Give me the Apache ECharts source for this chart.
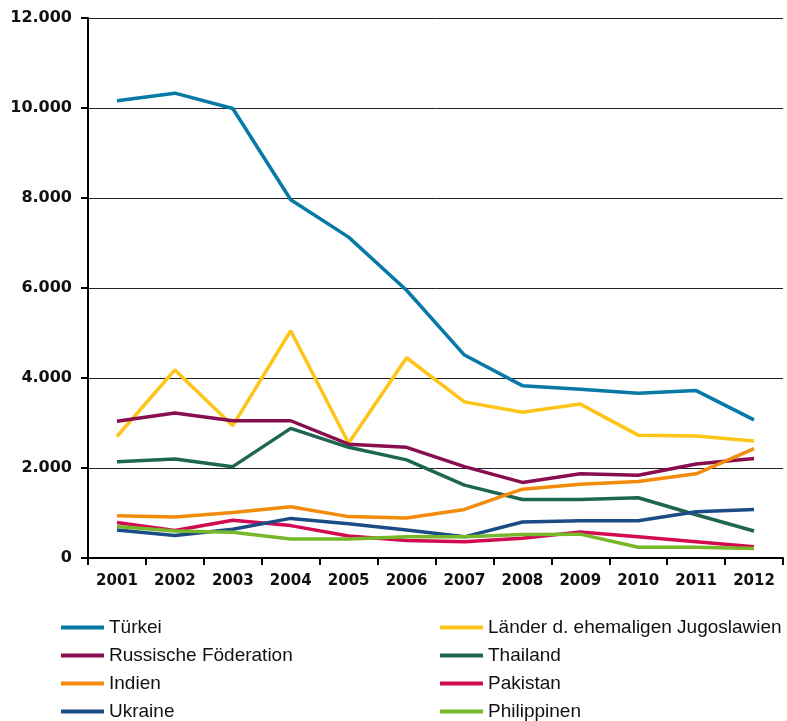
<!DOCTYPE html>
<html>
<head>
<meta charset="utf-8">
<script src="https://cdn.jsdelivr.net/npm/echarts@6/dist/echarts.min.js"></script>
<style>
  html, body { margin: 0; padding: 0; background: #fff; }
  #chart { width: 787px; height: 721px; }
</style>
</head>
<body>
<div id="chart"></div>
<script>
// Jahre und Werte
const years = ['2001', '2002', '2003', '2004', '2005', '2006', '2007', '2008', '2009', '2010', '2011', '2012']

const tuerkei = [10160, 10330, 9990, 7960, 7130, 5950, 4510, 3830, 3750, 3660, 3720, 3070]
const jugoslawien = [2700, 4180, 2940, 5050, 2550, 4450, 3470, 3240, 3420, 2730, 2710, 2600]
const russland = [3040, 3220, 3050, 3050, 2530, 2460, 2030, 1680, 1870, 1840, 2090, 2210]
const thailand = [2140, 2200, 2030, 2880, 2460, 2180, 1620, 1300, 1300, 1340, 960, 600]
const indien = [940, 910, 1010, 1140, 920, 890, 1080, 1530, 1640, 1700, 1870, 2430]
const pakistan = [790, 610, 840, 720, 490, 390, 360, 440, 580, 470, 360, 250]
const ukraine = [620, 500, 640, 880, 760, 620, 470, 800, 830, 830, 1030, 1080]
const philippinen = [700, 600, 570, 420, 420, 470, 470, 520, 530, 240, 240, 210]

const leftNames = ['Türkei', 'Russische Föderation', 'Indien', 'Ukraine']
const rightNames = ['Länder d. ehemaligen Jugoslawien', 'Thailand', 'Pakistan', 'Philippinen']

const seriesDefs = [
  { name: 'Türkei', data: tuerkei, color: '#0679a6' },
  { name: 'Länder d. ehemaligen Jugoslawien', data: jugoslawien, color: '#fec417' },
  { name: 'Russische Föderation', data: russland, color: '#880e4f' },
  { name: 'Thailand', data: thailand, color: '#1e6651' },
  { name: 'Indien', data: indien, color: '#f38b0c' },
  { name: 'Pakistan', data: pakistan, color: '#d20a52' },
  { name: 'Ukraine', data: ukraine, color: '#1c4c85' },
  { name: 'Philippinen', data: philippinen, color: '#76b82a' },
]

const AXIS_FONT = '"DejaVu Sans", sans-serif'

const legendBase = {
  orient: 'vertical',
  top: 618,
  height: 150,
  padding: 0,
  itemWidth: 43,
  itemHeight: 4,
  itemGap: 9,
  icon: 'rect',
  textStyle: { color: '#111', fontSize: 19, fontFamily: '"Liberation Sans", sans-serif' },
}

const chart = echarts.init(document.getElementById('chart'))
chart.setOption({
  animation: false,
  backgroundColor: '#fff',
  grid: { left: 88, right: 4, top: 18, bottom: 163 },
  legend: [
    { ...legendBase, left: 61, data: leftNames },
    { ...legendBase, left: 440, data: rightNames },
  ],
  xAxis: {
    type: 'category',
    data: years,
    boundaryGap: true,
    axisLine: { lineStyle: { color: '#000', width: 2 } },
    axisTick: { show: true, length: 7, lineStyle: { color: '#000', width: 2 } },
    axisLabel: { color: '#111', fontSize: 15, fontWeight: 'bold', margin: 16, fontFamily: AXIS_FONT },
  },
  yAxis: {
    type: 'value',
    min: 0,
    max: 12000,
    interval: 2000,
    axisLine: { show: true, lineStyle: { color: '#000', width: 2 } },
    axisTick: { show: true, length: 7, lineStyle: { color: '#000', width: 2 } },
    axisLabel: {
      color: '#111',
      fontSize: 16,
      fontWeight: 'bold',
      margin: 16,
      fontFamily: AXIS_FONT,
      formatter: (v) => v === 0 ? '0' : v.toLocaleString('de-DE'),
    },
    splitLine: { lineStyle: { color: '#222', width: 1 } },
  },
  series: seriesDefs.map((s) => ({
    name: s.name,
    type: 'line',
    data: s.data,
    symbol: 'none',
    color: s.color,
    lineStyle: { width: 3.5, color: s.color },
  })),
})
</script>
</body>
</html>
